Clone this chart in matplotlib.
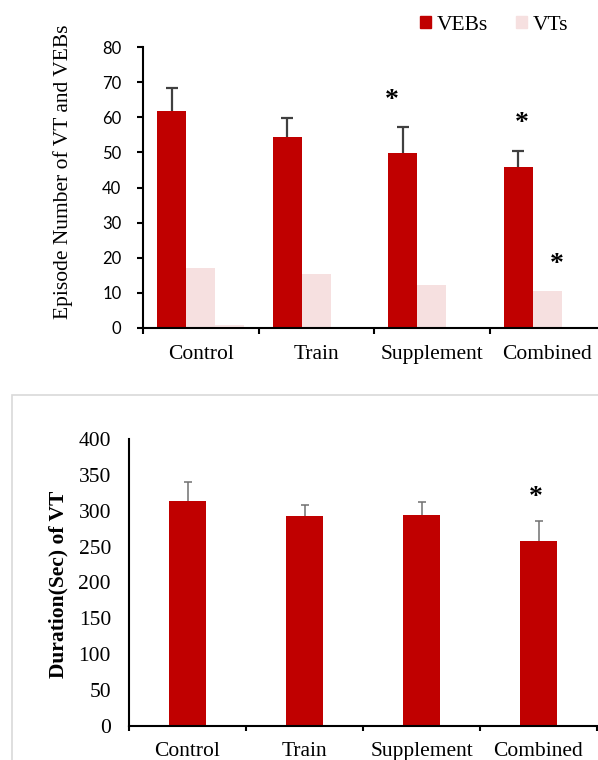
import matplotlib
matplotlib.use("Agg")
import matplotlib.pyplot as plt
import matplotlib.transforms as mtransforms
from matplotlib.patches import Patch, Rectangle
import numpy as np

# ---------------- data ----------------
categories = ["Control", "Train", "Supplement", "Combined"]

# top chart: episode numbers
veb_values = [61.8, 54.4, 49.8, 45.8]
veb_err = [6.4, 5.3, 7.4, 4.6]
vt_values = [17.1, 15.4, 12.2, 10.5]
extra_values = [0.9, 0.0, 0.0, 0.0]
top_yticks = [0, 10, 20, 30, 40, 50, 60, 70, 80]

# asterisks top: (category index, offset within group, height)
top_star_cat = [2, 3, 3]
top_star_off = [-0.344, -0.221, 0.084]
top_star_y = [66.2, 59.7, 19.3]

# bottom chart: duration of VT
dur_values = [313.5, 292.0, 294.5, 257.2]
dur_err = [27.0, 15.5, 18.0, 28.4]
bot_yticks = [0, 50, 100, 150, 200, 250, 300, 350, 400]
bot_star_cat = [3]
bot_star_y = [325]

# ---------------- style ----------------
RED = "#C00000"
PINK = "#F6E0E0"
PINK2 = "#F8E6E6"
SERIF = "Liberation Serif"
SANS = "Lato"
FS = 15.5
STAR_FS = 20

W, H = 598, 760
fig = plt.figure(figsize=(W / 100, H / 100), dpi=100)

def px_axes(left, right, top, bottom):
    return [left / W, 1 - bottom / H, (right - left) / W, (bottom - top) / H]

def up_errorbar(ax, xs, ys, errs, color, lw, cap):
    _, caplines, _ = ax.errorbar(xs, ys, yerr=[np.zeros(len(ys)), errs], fmt="none",
                                 ecolor=color, elinewidth=lw, capsize=cap,
                                 capthick=lw, zorder=3)
    caplines[0].set_visible(False)

# ---------------- top chart ----------------
ax1 = fig.add_axes(px_axes(143, 605, 47, 328))
x = np.arange(len(categories))
bw = 0.251
ax1.bar(x - bw, veb_values, bw, color=RED, zorder=2)
up_errorbar(ax1, x - bw, veb_values, veb_err, "#404040", 1.6, 4)
ax1.bar(x, vt_values, bw, color=PINK, zorder=2)
ax1.bar(x + bw, extra_values, bw, color=PINK2, zorder=2)

ax1.set_xlim(-0.5, 3.5)
ax1.set_ylim(0, 80)
ax1.set_yticks(top_yticks)
ax1.set_yticklabels([str(v) for v in top_yticks], fontfamily=SANS, fontsize=12)
ax1.set_xticks(np.arange(-0.5, 4.0, 1.0))
ax1.set_xticklabels([])
ax1.set_xticks(x, minor=True)
ax1.set_xticklabels(categories, minor=True, fontfamily=SERIF, fontsize=FS)
ax1.tick_params(axis="x", which="minor", length=0, pad=12.5)
ax1.tick_params(axis="x", which="major", length=4.5, width=1.5, direction="out")
ax1.tick_params(axis="y", length=4.5, width=1.5, direction="out", pad=11)
for s in ["top", "right"]:
    ax1.spines[s].set_visible(False)
for s in ["left", "bottom"]:
    ax1.spines[s].set_linewidth(1.5)
ax1.spines["bottom"].set_zorder(4)

star_tr1 = mtransforms.offset_copy(ax1.transData, fig=fig, y=-0.405 * STAR_FS, units="points")
for c, o, yv in zip(top_star_cat, top_star_off, top_star_y):
    ax1.text(c + o, yv, "*", transform=star_tr1, ha="center", va="baseline",
             fontfamily=SERIF, fontsize=STAR_FS, fontweight="bold", color="black")

fig.text(63 / W, 1 - 172 / H, "Episode Number of VT and VEBs", rotation=90,
         ha="center", va="center", fontfamily=SERIF, fontsize=FS)

handles = [Patch(color=RED, label="VEBs"), Patch(color=PINK, label="VTs")]
fig.legend(handles=handles, loc="center", bbox_to_anchor=(494 / W, 1 - 25 / H),
           ncol=2, frameon=False, prop={"family": SERIF, "size": FS},
           handlelength=0.52, handleheight=0.52, handletextpad=0.25,
           columnspacing=1.3, borderpad=0)

# ---------------- bottom chart ----------------
fig.patches.append(Rectangle((12 / W, -0.05), 1.0, 1 - 395 / H + 0.05,
                             transform=fig.transFigure, fill=False,
                             edgecolor="#D9D9D9", linewidth=1.2))

ax2 = fig.add_axes(px_axes(129, 597, 439, 725.7))
bw2 = 0.316
ax2.bar(x, dur_values, bw2, color=RED, zorder=2)
up_errorbar(ax2, x, dur_values, dur_err, "#707070", 1.1, 3)
ax2.set_xlim(-0.5, 3.5)
ax2.set_ylim(0, 400)
ax2.set_yticks(bot_yticks)
ax2.set_yticklabels([str(v) for v in bot_yticks], fontfamily=SERIF, fontsize=FS)
ax2.set_xticks(np.arange(-0.5, 4.0, 1.0))
ax2.set_xticklabels([])
ax2.set_xticks(x, minor=True)
ax2.set_xticklabels(categories, minor=True, fontfamily=SERIF, fontsize=FS)
ax2.tick_params(axis="x", which="minor", length=0, pad=12)
ax2.tick_params(axis="x", which="major", length=3.5, width=1.5, direction="out")
ax2.tick_params(axis="y", length=0, pad=13)
for s in ["top", "right"]:
    ax2.spines[s].set_visible(False)
for s in ["left", "bottom"]:
    ax2.spines[s].set_linewidth(1.5)
ax2.spines["bottom"].set_zorder(4)

star_tr2 = mtransforms.offset_copy(ax2.transData, fig=fig, y=-0.405 * STAR_FS, units="points")
for c, yv in zip(bot_star_cat, bot_star_y):
    ax2.text(c - 0.02, yv, "*", transform=star_tr2, ha="center", va="baseline",
             fontfamily=SERIF, fontsize=STAR_FS, fontweight="bold", color="black")

fig.text(58.5 / W, 1 - 584 / H, "Duration(Sec) of VT", rotation=90,
         ha="center", va="center", fontfamily=SERIF, fontsize=FS,
         fontweight="bold")

fig.savefig("out.png", dpi=100)
